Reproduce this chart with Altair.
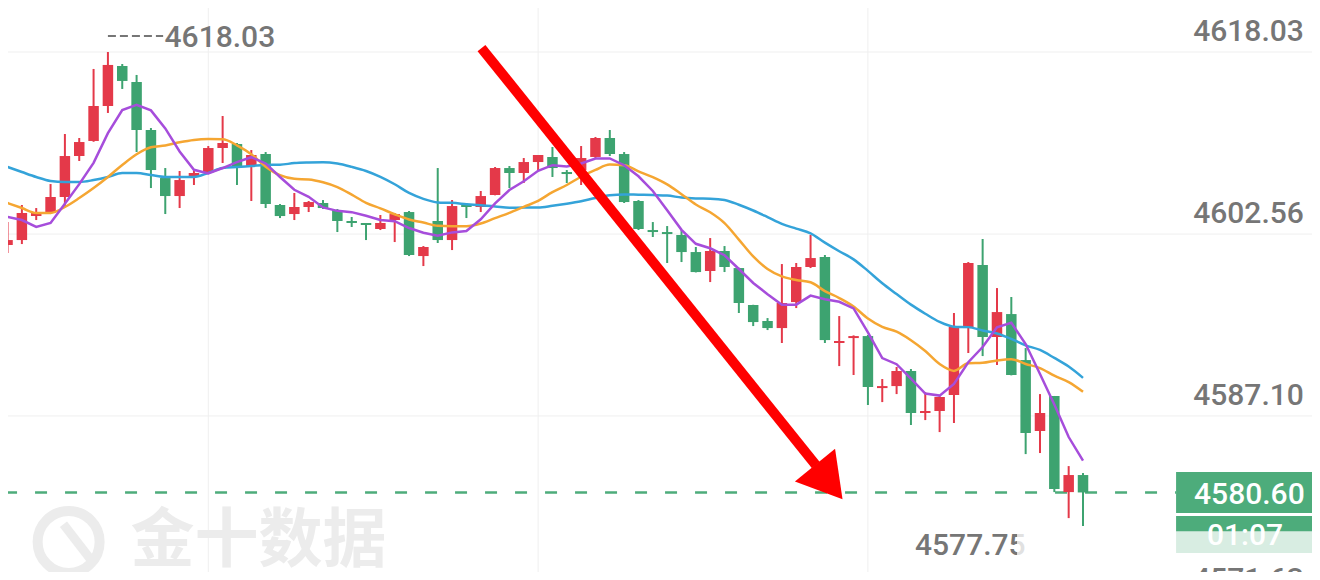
import altair as alt
import pandas as pd

# ---------------- data ----------------
open_ = [
    4601.63, 4602.05, 4604.09, 4604.35, 4605.71, 4609.19, 4610.47, 4613.44, 4616.84, 4615.48,
    4611.40, 4607.32, 4605.79, 4607.41, 4607.83, 4609.87, 4610.21, 4608.34, 4609.36, 4605.03,
    4604.26, 4604.86, 4605.20, 4604.60, 4603.67, 4603.50, 4602.99, 4603.75, 4604.43, 4600.69,
    4603.67, 4602.05, 4605.03, 4604.86, 4605.88, 4608.17, 4607.75, 4608.68, 4609.11, 4607.83,
    4608.00, 4609.11, 4610.72, 4609.36, 4605.37, 4602.90, 4602.73, 4602.48, 4601.03, 4599.42,
    4601.12, 4599.67, 4596.53, 4595.17, 4594.57, 4596.78, 4599.76, 4600.61, 4593.30, 4593.72,
    4593.89, 4589.47, 4589.64, 4590.92, 4587.35, 4587.52, 4588.88, 4594.57, 4599.93, 4593.81,
    4595.76, 4591.85, 4585.82, 4588.79, 4580.63, 4582.08]
high_ = [
    4603.58, 4605.03, 4604.77, 4606.81, 4611.06, 4610.72, 4616.59, 4618.03, 4617.01, 4616.08,
    4611.57, 4608.17, 4607.92, 4608.00, 4610.04, 4612.59, 4610.30, 4609.70, 4609.53, 4605.11,
    4606.05, 4605.37, 4605.45, 4604.69, 4604.01, 4603.50, 4604.18, 4604.35, 4604.52, 4601.54,
    4608.17, 4605.45, 4605.20, 4606.22, 4608.26, 4608.34, 4609.02, 4609.28, 4609.96, 4608.00,
    4610.04, 4610.81, 4611.40, 4609.53, 4605.45, 4603.58, 4603.24, 4602.90, 4601.46, 4602.22,
    4601.54, 4599.70, 4596.55, 4595.42, 4600.01, 4600.10, 4602.48, 4600.78, 4595.59, 4593.95,
    4593.98, 4590.24, 4591.26, 4591.09, 4589.13, 4588.79, 4595.85, 4600.18, 4602.14, 4597.97,
    4597.21, 4592.87, 4588.96, 4588.80, 4582.84, 4582.25]
low_ = [
    4600.95, 4601.71, 4603.75, 4604.26, 4604.86, 4608.77, 4610.40, 4612.85, 4614.89, 4609.53,
    4606.47, 4604.26, 4604.77, 4606.73, 4607.80, 4608.60, 4606.73, 4605.37, 4604.77, 4603.92,
    4603.75, 4604.43, 4604.69, 4602.73, 4603.16, 4602.05, 4602.90, 4601.88, 4600.69, 4599.84,
    4601.80, 4601.20, 4603.92, 4604.43, 4605.85, 4606.47, 4606.90, 4608.00, 4607.41, 4606.90,
    4606.73, 4609.02, 4609.19, 4605.20, 4602.90, 4602.31, 4600.10, 4600.18, 4599.30, 4598.48,
    4599.33, 4595.85, 4594.74, 4594.40, 4593.30, 4596.27, 4599.67, 4593.30, 4591.34, 4590.58,
    4588.03, 4588.28, 4588.96, 4586.33, 4586.75, 4585.73, 4586.50, 4592.45, 4592.19, 4591.43,
    4590.55, 4583.86, 4583.95, 4580.63, 4578.42, 4577.75]
close_ = [
    4602.05, 4604.35, 4604.35, 4605.71, 4609.19, 4610.38, 4613.44, 4616.93, 4615.57, 4611.40,
    4608.00, 4605.79, 4607.15, 4607.75, 4609.87, 4610.30, 4608.26, 4609.28, 4605.11, 4604.09,
    4604.86, 4605.28, 4604.77, 4603.67, 4603.50, 4603.33, 4603.50, 4604.26, 4600.78, 4601.46,
    4602.05, 4604.94, 4604.86, 4605.79, 4608.17, 4607.75, 4608.68, 4609.28, 4608.17, 4607.66,
    4609.02, 4610.72, 4609.36, 4605.28, 4602.99, 4602.73, 4602.56, 4601.03, 4599.33, 4601.12,
    4599.76, 4596.70, 4595.08, 4594.57, 4596.70, 4599.76, 4600.52, 4593.55, 4593.47, 4593.89,
    4589.56, 4589.64, 4590.92, 4587.35, 4587.52, 4588.71, 4594.66, 4600.10, 4593.81, 4595.93,
    4590.58, 4585.65, 4587.35, 4580.89, 4582.08, 4580.60]

# moving-average values at the left edge (their history lies off-screen)
ma5_head = [4604.01, 4603.75, 4603.16, 4603.50]
ma10_head = [4605.20, 4604.77, 4604.35, 4604.35, 4604.86, 4605.62, 4606.47, 4607.41, 4608.43]
ma20_head = [4608.26, 4607.83, 4607.41, 4607.07, 4606.98, 4606.98, 4607.15, 4607.41, 4607.75,
             4607.75, 4607.58, 4607.41, 4607.41, 4607.41, 4607.75, 4608.17, 4608.26, 4608.34,
             4608.43]

tick_values = [4618.03, 4602.56, 4587.10, 4571.63]
tick_labels = ["4618.03", "4602.56", "4587.10", "4571.63"]
vgrid_idx = [14, 37, 60]
last_price = 4580.60
last_label = "4580.60"
countdown = "01:07"
high_label = "4618.03"
low_label = "4577.75"
watermark = "金十数据"

# ---------------- styling ----------------
RED = "#e43949"
GREEN = "#3da370"
BOX_GREEN = "#4dac7b"
PURPLE = "#a64ddb"
ORANGE = "#f5a632"
BLUE = "#34a3d9"
GRAY = "#767676"
GRID = "#efefef"
WM = "#ececec"
FONT = "Roboto"
FW = 500
FS = 30

n = len(close_)
idx = list(range(n))
candles = pd.DataFrame({"i": idx, "open": open_, "high": high_, "low": low_, "close": close_})

cl = pd.Series(close_)


def moving(win, head):
    s = cl.rolling(win).mean()
    s.iloc[:len(head)] = head
    return s.round(2)


ma_df = pd.DataFrame({"i": idx, "ma5": moving(5, ma5_head),
                      "ma10": moving(10, ma10_head), "ma20": moving(20, ma20_head)})

XS = alt.Scale(domain=[0.381, 90.62], nice=False, zero=False)
YS = alt.Scale(domain=[4573.84, 4621.77], nice=False, zero=False)


def X(f):
    return alt.X(f, type="quantitative", scale=XS, axis=None)


def Y(f):
    return alt.Y(f, type="quantitative", scale=YS, axis=None)


hgrid = alt.Chart(pd.DataFrame({"v": tick_values})).mark_rule(
    color=GRID, strokeWidth=1).encode(y=Y("v"))
vgrid = alt.Chart(pd.DataFrame({"i": vgrid_idx})).mark_rule(
    color=GRID, strokeWidth=1).encode(x=X("i"))

wm_text = alt.Chart(pd.DataFrame({"i": [17.5], "p": [4576.40], "t": [watermark]})).mark_text(
    font="Noto Sans CJK SC", fontSize=64, fontWeight="bold", color=WM,
    align="center", baseline="middle").encode(x=X("i"), y=Y("p"), text="t:N")
wm_ring = alt.Chart(pd.DataFrame({"i": [4.26], "p": [4576.40]})).mark_point(
    shape="circle", size=3844, strokeWidth=10, color=WM, filled=False, opacity=1
).encode(x=X("i"), y=Y("p"))
wm_tail = alt.Chart(pd.DataFrame({"x0": [3.9], "p0": [4577.9], "x1": [5.8], "p1": [4574.9]})).mark_rule(
    color=WM, strokeWidth=9).encode(x=X("x0"), y=Y("p0"), x2=alt.X2("x1"), y2=alt.Y2("p1"))

price_line = alt.Chart(pd.DataFrame({"x0": [-0.173], "x1": [81.49], "p": [last_price]})).mark_rule(
    strokeDash=[12, 18], strokeWidth=2.5, color=BOX_GREEN, clip=True
).encode(x=X("x0"), x2=alt.X2("x1"), y=Y("p"))

cond = alt.condition("datum.close >= datum.open", alt.value(RED), alt.value(GREEN))
wicks = alt.Chart(candles).mark_rule(strokeWidth=2, clip=True).encode(
    x=X("i"), y=Y("low"), y2=alt.Y2("high"), color=cond)
bodies = alt.Chart(candles).mark_bar(size=10.5, clip=True).encode(
    x=X("i"), y=Y("open"), y2=alt.Y2("close"), color=cond)

ma20_line = alt.Chart(ma_df).mark_line(color=BLUE, strokeWidth=2.5, interpolate="monotone", clip=True).encode(
    x=X("i"), y=Y("ma20"))
ma10_line = alt.Chart(ma_df).mark_line(color=ORANGE, strokeWidth=2.5, interpolate="monotone", clip=True).encode(
    x=X("i"), y=Y("ma10"))
ma5_line = alt.Chart(ma_df).mark_line(color=PURPLE, strokeWidth=2.5, clip=True).encode(
    x=X("i"), y=Y("ma5"))

arrow = alt.Chart(pd.DataFrame({"x0": [33.05], "p0": [4618.37], "x1": [56.37], "p1": [4582.92]})).mark_rule(
    color="#ff0000", strokeWidth=10, strokeCap="butt"
).encode(x=X("x0"), y=Y("p0"), x2=alt.X2("x1"), y2=alt.Y2("p1"))
arrow_head = alt.Chart(pd.DataFrame({"i": [58.23], "p": [4580.03]})).mark_point(
    shape="M0,0L-1.18,-2L1.18,-2Z", size=1918, angle=321, filled=True,
    color="#ff0000", opacity=1, strokeWidth=0
).encode(x=X("i"), y=Y("p"))

tick_text = alt.Chart(pd.DataFrame({"i": [90.4] * 3, "v": tick_values[:3], "t": tick_labels[:3]})).mark_text(
    align="right", baseline="alphabetic", dy=-11, fontSize=FS, fontWeight=FW, font=FONT, color=GRAY
).encode(x=X("i"), y=Y("v"), text="t:N")

high_dash = alt.Chart(pd.DataFrame({"x0": [7.0], "x1": [10.85], "p": [4619.39]})).mark_rule(
    strokeDash=[8, 4], strokeWidth=2, color=GRAY).encode(x=X("x0"), x2=alt.X2("x1"), y=Y("p"))
high_text = alt.Chart(pd.DataFrame({"i": [10.95], "p": [4618.46], "t": [high_label]})).mark_text(
    align="left", baseline="alphabetic", fontSize=FS, fontWeight=FW, font=FONT, color=GRAY
).encode(x=X("i"), y=Y("p"), text="t:N")

box = alt.Chart(pd.DataFrame({"x0": [81.49, 81.49], "x1": [91.5, 91.5],
                              "p0": [4582.33, 4578.59], "p1": [4578.85, 4575.45]})).mark_rect(
    color=BOX_GREEN).encode(x=X("x0"), x2=alt.X2("x1"), y=Y("p0"), y2=alt.Y2("p1"))
box_text = alt.Chart(pd.DataFrame({"i": [86.6, 86.3], "p": [4579.61, 4576.12],
                                   "t": [last_label, countdown]})).mark_text(
    align="center", baseline="alphabetic", fontSize=FS, fontWeight=FW, font=FONT, color="white"
).encode(x=X("i"), y=Y("p"), text="t:N")

low_text = alt.Chart(pd.DataFrame({"i": [71.0, 90.4], "p": [4575.28, 4572.39],
                                   "t": [low_label, tick_labels[3]]})).mark_text(
    align="right", baseline="alphabetic", fontSize=FS, fontWeight=FW, font=FONT, color=GRAY
).encode(x=X("i"), y=Y("p"), text="t:N")

blur = alt.Chart(pd.DataFrame({"x0": [70.4], "x1": [91.5], "p0": [4577.30], "p1": [4574.43]})).mark_rect(
    color="white", opacity=0.78).encode(x=X("x0"), x2=alt.X2("x1"), y=Y("p0"), y2=alt.Y2("p1"))

chart = alt.layer(
    hgrid, vgrid, wm_ring, wm_tail, wm_text, price_line, wicks, bodies,
    ma20_line, ma10_line, ma5_line, arrow, arrow_head,
    tick_text, high_dash, high_text, box, box_text, low_text, blur
).properties(
    width=1304, height=564, padding=0,
    autosize=alt.AutoSizeParams(type="none"), background="white"
).configure_view(stroke=None)

chart.save("out.html", embed_options={"renderer": "svg", "actions": False})
